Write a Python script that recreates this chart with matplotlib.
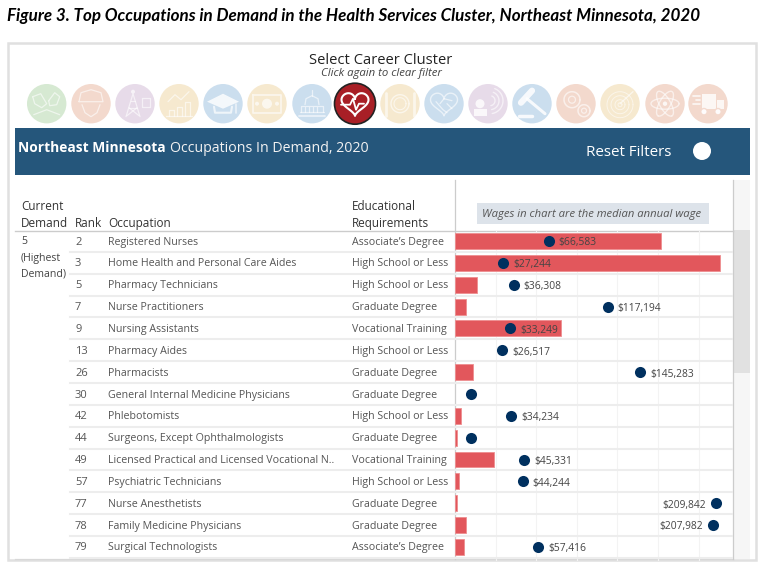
import numpy as np
import matplotlib
matplotlib.use("Agg")
import matplotlib.pyplot as plt
from matplotlib.patches import Rectangle, Circle, Polygon
from matplotlib.transforms import blended_transform_factory

demand_note = ["5", "(Highest", "Demand)"]
ranks = [2, 3, 5, 7, 9, 13, 26, 30, 42, 44, 49, 57, 77, 78, 79, 80]
occupations = ["Registered Nurses", "Home Health and Personal Care Aides", "Pharmacy Technicians",
               "Nurse Practitioners", "Nursing Assistants", "Pharmacy Aides", "Pharmacists",
               "General Internal Medicine Physicians", "Phlebotomists", "Surgeons, Except Ophthalmologists",
               "Licensed Practical and Licensed Vocational N..", "Psychiatric Technicians",
               "Nurse Anesthetists", "Family Medicine Physicians", "Surgical Technologists", ""]
education = ["Associate's Degree", "High School or Less", "High School or Less", "Graduate Degree",
             "Vocational Training", "High School or Less", "Graduate Degree", "Graduate Degree",
             "High School or Less", "Graduate Degree", "Vocational Training", "High School or Less",
             "Graduate Degree", "Graduate Degree", "Associate's Degree", ""]
openings = [507, 652, 53, 26, 260, 0, 44, 0, 15, 4, 96, 10, 6, 26, 22, 66]
wages = [66583, 27244, 36308, 117194, 33249, 26517, 145283, 0, 34234, 0, 45331, 44244, 209842, 207982, 57416]
icon_colors = ["#d6e9d2", "#f3d9cd", "#e7dbe9", "#f6e9cf", "#cbdeee", "#f6e9cf", "#cbdeee", "#a81f26",
               "#f6e9cf", "#cbdeee", "#e7dbe9", "#cbdeee", "#f3d9cd", "#f6e9cf", "#f3d9cd", "#f3d9cd"]
icon_x = [46.7, 91, 135, 179, 223, 267, 312, 355, 400, 444, 488, 532, 576, 620, 665, 708]

FONT = "Open Sans"
plt.rcParams["font.family"] = FONT
W, H = 763, 572
fig = plt.figure(figsize=(W / 100, H / 100), dpi=100, facecolor="white")
bg = fig.add_axes([0, 0, 1, 1])
bg.set_xlim(0, W); bg.set_ylim(H, 0); bg.axis("off")

# frame
bg.add_patch(Rectangle((8, 43), 748, 517, fc="white", ec="#e0e0e0", lw=1.8))
bg.text(7, 15.5, "Figure 3. Top Occupations in Demand in the Health Services Cluster, Northeast Minnesota, 2020",
        fontsize=12.25, fontweight="bold", fontstyle="italic", family="Lato", color="black", va="center", ha="left")
bg.text(381, 60.5, "Select Career Cluster", fontsize=10.6, color="#222222", ha="center", va="center")
bg.text(381, 73.5, "Click again to clear filter", fontsize=8.2, fontstyle="italic", color="#444444", ha="center", va="center")

# banner
bg.add_patch(Rectangle((15, 128), 735, 47, fc="#25567b", ec="none"))
t = bg.text(18, 148, "Northeast Minnesota", fontsize=9.9, fontweight="bold", color="white", va="center")
fig.canvas.draw()
ext = t.get_window_extent()
bg.text(ext.x1 + 4, 148, "Occupations In Demand, 2020", fontsize=10.2, color="#f2f2f2", va="center")
bg.text(586, 153, "Reset Filters", fontsize=10.9, color="white", va="center")
bg.add_patch(Circle((702, 151), 9, fc="white", ec="none"))

# glyphs
GA = 0.6
def line(cx, cy, pts, lw=0.9, a=None):
    p = np.array(pts, float)
    bg.plot(cx + p[:, 0], 103.7 + p[:, 1], color="white", lw=lw, alpha=GA if a is None else a,
            solid_capstyle="round", zorder=4)

def disc(x0, y0, r, a=0.65):
    bg.add_patch(Circle((x0, 103.7 + y0), r, fc="white", ec="none", alpha=a, zorder=4))

def glyph(i, cx):
    if i == 0:
        line(cx, 0, [(-14,-7),(-6,-10),(0,0),(-5,4),(-12,0),(-14,-7)])
        line(cx, 0, [(2,-3),(8,-11),(13,-7),(10,1),(3,2),(2,-3)])
        line(cx, 0, [(-13,11),(0,6),(13,11)])
    elif i == 1:
        line(cx, 0, [(-12,-2),(-10,-11),(0,-14),(10,-11),(12,-2),(-12,-2)])
        line(cx, 0, [(-9,1),(-6,9),(0,13),(6,9),(9,1)])
    elif i == 2:
        line(cx, 0, [(-9,13),(-2,-10),(5,13)]); line(cx, 0, [(-6,4),(2,4)]); line(cx, 0, [(-4,-3),(0,-3)])
        line(cx, 0, [(-8,12),(2,4)]); line(cx, 0, [(4,12),(-6,4)])
        line(cx, 0, [(7,-6),(15,-6),(15,3),(7,3),(7,-6)])
        disc(cx-2, -12, 2)
    elif i == 3:
        for x0, h in ((-10, 6), (-2, 9), (6, 14)):
            line(cx, 0, [(x0,12),(x0,12-h),(x0+5,12-h),(x0+5,12)])
        line(cx, 0, [(-13,12),(13,12)])
        line(cx, 0, [(-11,-2),(-4,-9),(2,-4),(10,-12)])
    elif i == 4:
        bg.add_patch(Polygon([[cx-16,103.7-2],[cx,103.7-10],[cx+16,103.7-2],[cx,103.7+5]], fc="white", ec="none", alpha=.8, zorder=4))
        line(cx, 0, [(-9,3),(-8,9),(8,9),(9,3)], lw=1.5, a=.7); line(cx, 0, [(13,0),(13,9)], lw=1.2)
    elif i == 5:
        line(cx, 0, [(-14,-9),(14,-9),(14,9),(-14,9),(-14,-9)], lw=1.3)
        disc(cx, 0, 5); disc(cx-10, 0, 2); disc(cx+10, 0, 2)
    elif i == 6:
        line(cx, 0, [(-13,12),(13,12)], lw=1.3); line(cx, 0, [(-12,8),(12,8)])
        line(cx, 0, [(-11,8),(-11,2),(11,2),(11,8)])
        for dx in (-7,-3,1,5):
            line(cx, 0, [(dx,8),(dx,3)])
        line(cx, 0, [(-7,1),(-6,-5),(0,-8),(6,-5),(7,1)]); line(cx, 0, [(0,-8),(0,-14)])
    elif i == 7:
        th = np.linspace(0, 2*np.pi, 80)
        x = 13.5*np.sin(th)**3
        y = -(12*np.cos(th)-4.5*np.cos(2*th)-2*np.cos(3*th)-np.cos(4*th))*0.85 - 1
        line(cx, 0, list(zip(x, y)), lw=1.5, a=1)
        line(cx, 0, [(-14,1),(-5,1),(-2,-5),(1,6),(4,0),(9,0)], lw=1.3, a=1)
    elif i == 8:
        th = np.linspace(0, 2*np.pi, 50)
        line(cx, 0, list(zip(9*np.cos(th), 9*np.sin(th))), lw=1.0)
        line(cx, 0, list(zip(6*np.cos(th), 6*np.sin(th))), lw=.8)
        line(cx, 0, [(-14,-11),(-14,12)], lw=2.0); line(cx, 0, [(14,-11),(14,12)], lw=2.0)
    elif i == 9:
        th = np.linspace(0, 2*np.pi, 80)
        x = 13.5*np.sin(th)**3
        y = -(12*np.cos(th)-4.5*np.cos(2*th)-2*np.cos(3*th)-np.cos(4*th))*0.85 - 1
        line(cx, 0, list(zip(x, y)), lw=1.0)
        line(cx, 0, [(-8,-2),(-1,6),(3,9)]); line(cx, 0, [(8,-3),(0,-5),(-4,0)]); line(cx, 0, [(3,0),(8,5)])
    elif i == 10:
        disc(cx-8, 0, 4.5, .8)
        bg.add_patch(Rectangle((cx-14, 103.7+5), 13, 7, fc="white", ec="none", alpha=.8, zorder=4))
        th = np.linspace(-1.2, 1.4, 30)
        for r in (5, 9, 13):
            line(cx+2, 0, list(zip(r*np.cos(th), -3 + r*np.sin(th))), lw=1.0)
    elif i == 11:
        line(cx, 0, [(-5,-5),(13,10)], lw=2.2, a=.85)
        line(cx, 0, [(-11,-1),(0,-13)], lw=4.5, a=.85)
        line(cx, 0, [(-13,12),(0,12)], lw=2.5, a=.85)
    elif i == 12:
        th = np.linspace(0, 2*np.pi, 40)
        line(cx, 0, list(zip(-4+8*np.cos(th), -4+8*np.sin(th))), lw=1.1)
        line(cx, 0, list(zip(-4+3.5*np.cos(th), -4+3.5*np.sin(th))), lw=.9)
        line(cx, 0, list(zip(8+6*np.cos(th), 7+6*np.sin(th))), lw=1.1)
        line(cx, 0, list(zip(8+2.5*np.cos(th), 7+2.5*np.sin(th))), lw=.9)
    elif i == 13:
        th = np.linspace(0, 2*np.pi, 50)
        for r in (13, 9, 5, 2):
            line(cx, 1, list(zip(r*np.cos(th), 1+r*np.sin(th))), lw=.7, a=.55)
        line(cx, 0, [(0,0),(13,-12)], lw=1.0)
    elif i == 14:
        th = np.linspace(0, 2*np.pi, 50)
        for ang in (0, 60, 120):
            a = np.deg2rad(ang)
            ex, ey = 14*np.cos(th), 5.5*np.sin(th)
            line(cx, 0, list(zip(ex*np.cos(a)-ey*np.sin(a), ex*np.sin(a)+ey*np.cos(a))), lw=1.0)
        disc(cx, 0, 2.2, .8)
    elif i == 15:
        bg.add_patch(Rectangle((cx-6, 103.7-10), 14, 15, fc="white", ec="none", alpha=.8, zorder=4))
        bg.add_patch(Rectangle((cx+9, 103.7-4), 7, 9, fc="white", ec="none", alpha=.8, zorder=4))
        for dx in (-4, 10):
            bg.add_patch(Circle((cx+dx, 103.7+8), 3.2, fc="white", ec="#f3d9cd", lw=1, alpha=.95, zorder=5))
        for y0, x0 in ((-8,-15), (-4,-12), (0,-15)):
            line(cx, 0, [(x0,y0),(-8,y0)], lw=1.2, a=.8)

for i, (c, x0) in enumerate(zip(icon_colors, icon_x)):
    if i == 7:
        bg.add_patch(Circle((x0, 103.7), 20.5, fc=c, ec="#222222", lw=1.2, zorder=3))
    else:
        bg.add_patch(Circle((x0, 103.7), 19.7, fc=c, ec="none", zorder=3))
    glyph(i, x0)

# scrollbar + lines
bg.add_patch(Rectangle((733, 180), 17, 379, fc="#f6f6f6", ec="none"))
bg.add_patch(Rectangle((733, 230), 17, 143, fc="#e1e1e1", ec="none"))
bg.plot([15, 733], [230.5, 230.5], color="#cccccc", lw=1.0, zorder=1)
bg.plot([15, 733], [558.5, 558.5], color="#d8d8d8", lw=0.9, zorder=1)

# chart
X0, X1, Y0, Y1 = 455, 733, 230, 561
ax = fig.add_axes([X0 / W, 1 - Y1 / H, (X1 - X0) / W, (Y1 - Y0) / H], facecolor="none")
rows = np.arange(len(ranks))
row_h = 21.85
ax.set_ylim((Y1 - 241) / row_h, (Y0 - 241) / row_h)
bar_per_px = 100 / 40.6
ax.set_xlim(0, (X1 - X0) * bar_per_px)
ax.set_xticks(np.arange(100, 700, 100))
ax.grid(axis="x", color="#f3f3f3", lw=0.8)
ax.set_axisbelow(True)
for sp in ax.spines.values():
    sp.set_visible(False)
values = np.array(openings, float)
mask = values > 0
ax.barh(rows[mask], values[mask], height=0.73, color="#e2575c", edgecolor="#ee8e90", linewidth=0.6, zorder=2)
for r in rows[:-1]:
    ax.axhline(r + 0.5, color="#ededed", lw=1.5, zorder=1)

ax2 = ax.twiny()
ax2.set_facecolor("none")
ax2.set_xlim((X0 - 471.3) / 0.001164, (X1 - 471.3) / 0.001164)
ax2.set_ylim(ax.get_ylim())
ax2.axis("off")
ax.tick_params(axis="both", which="both", left=False, bottom=False, top=False,
               labelleft=False, labelbottom=False, labeltop=False)
ax2.plot(wages, rows[:len(wages)], "o", color="#00305f", ms=8, mew=0, zorder=5)
for r, w in zip(rows, wages):
    if w == 0:
        continue
    label = f"${w:,}"
    dx, ha = (-7.2, "right") if w > 200000 else (7.2, "left")
    ax2.annotate(label, (w, r), xytext=(dx, -1.4), textcoords="offset points", ha=ha, va="center",
                 fontsize=7.4, color="#444444", zorder=6)

# vertical rules
bg.plot([454.5, 454.5], [180, 559], color="#cccccc", lw=0.9, zorder=6)
bg.plot([733, 733], [180, 559], color="#cccccc", lw=0.9, zorder=6)

# table text
tr = blended_transform_factory(bg.transData, ax.transData)
TS = 7.65
TC = "#555555"
for r in rows[:-1]:
    fig.add_artist(plt.Line2D([70, 455], [r + 0.5, r + 0.5], transform=tr, color="#ededed", lw=1.5, zorder=1))
    fig.text(75, r + 0.05, str(ranks[r]), transform=tr, fontsize=TS + 0.4, color=TC, va="center")
    fig.text(108, r + 0.05, occupations[r], transform=tr, fontsize=TS, color=TC, va="center")
    fig.text(351.5, r + 0.05, education[r].replace("'", "\u2019"), transform=tr, fontsize=TS, color=TC, va="center")

HC = "#333333"
HS = 8.5
for x0, y0, s in [(21, 206, "Current"), (21, 223.5, "Demand"), (75, 223.5, "Rank"), (108, 223.5, "Occupation"),
                  (351.5, 206, "Educational"), (351.5, 223.5, "Requirements")]:
    bg.text(x0, y0, s, fontsize=HS, color=HC, va="center", zorder=7)
for y0, s in zip((241.5, 258.5, 274.5), demand_note):
    bg.text(21, y0, s, fontsize=7.6, color="#444444", va="center", zorder=7)

bg.add_patch(Rectangle((477, 203), 232, 21, fc="#dde3ea", ec="none", zorder=2))
bg.text(482.5, 214, "Wages in chart are the median annual wage", fontsize=8.1, fontstyle="italic", color="#555555", va="center", zorder=7)

fig.savefig("out.png", dpi=100)
